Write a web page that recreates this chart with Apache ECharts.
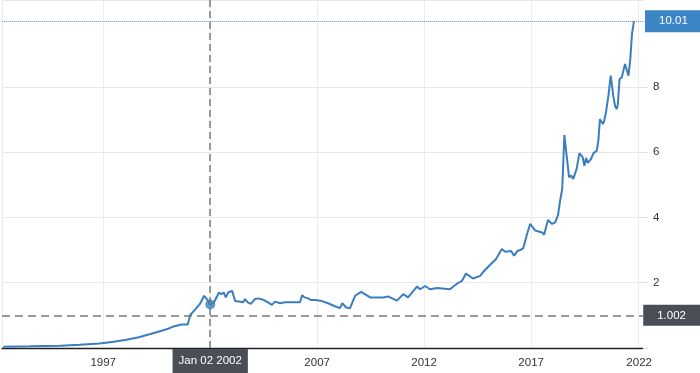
<!DOCTYPE html>
<html>
<head>
<meta charset="utf-8">
<script src="https://cdn.jsdelivr.net/npm/echarts@6/dist/echarts.min.js"></script>
<style>
html,body{margin:0;padding:0;background:#fff;}
#c{width:700px;height:373px;}
</style>
</head>
<body>
<div id="c"></div>
<script>
const dates = [
 '1992-05-01','1993-08-01','1995-01-01','1995-12-01','1996-11-01','1997-07-01','1998-02-01','1998-09-01','1999-03-01','1999-08-01',
 '2000-01-01','2000-04-01','2000-09-01','2000-12-15','2001-01-25','2001-04-15','2001-07-10','2001-09-20','2001-11-25','2002-01-02',
 '2002-03-01','2002-06-01','2002-07-10','2002-08-20','2002-09-25','2002-11-05','2002-12-05','2003-01-10','2003-03-05','2003-04-10',
 '2003-07-20','2003-08-20','2003-10-05','2003-11-25','2004-02-05','2004-04-01','2004-07-05','2004-09-15','2004-11-20','2005-01-15',
 '2005-04-10','2005-07-01','2005-10-01','2006-03-15','2006-04-20','2006-06-01','2006-07-30','2006-09-20','2006-12-01','2007-03-01',
 '2007-07-05','2007-11-01','2008-01-25','2008-03-05','2008-05-10','2008-07-15','2008-10-10','2009-01-20','2009-06-25','2010-02-01','2010-04-25',
 '2010-09-25','2011-01-10','2011-04-01','2011-09-01','2011-10-25','2012-01-20','2012-04-10','2012-08-10','2013-03-15','2013-07-15',
 '2013-10-10','2013-12-15','2014-04-15','2014-08-15','2014-10-05','2015-02-01','2015-05-10','2015-08-20','2015-10-15','2016-01-25',
 '2016-03-15','2016-05-10','2016-06-28','2016-08-20','2016-10-25','2016-12-15','2017-03-10','2017-07-05','2017-08-10','2017-10-15',
 '2017-12-25','2018-02-15','2018-04-05','2018-05-10','2018-06-15','2018-07-22','2018-10-10','2018-11-15','2018-12-20','2019-02-15',
 '2019-04-05','2019-06-01','2019-06-28','2019-07-28','2019-08-25','2019-10-20','2019-12-01','2020-01-25','2020-02-22','2020-03-20',
 '2020-05-08','2020-06-01','2020-07-01','2020-08-12','2020-09-20','2020-11-02','2020-12-05','2021-01-01','2021-01-20','2021-02-18',
 '2021-03-28','2021-05-22','2021-07-20','2021-08-20','2021-09-18','2021-10-22'
];
const values = [
 0.04,0.05,0.07,0.10,0.14,0.19,0.25,0.33,0.42,0.50,
 0.58,0.65,0.72,0.72,1.01,1.17,1.35,1.60,1.45,1.33,
 1.38,1.70,1.65,1.70,1.55,1.70,1.65,1.75,1.43,1.43,
 1.40,1.50,1.40,1.35,1.50,1.52,1.47,1.40,1.32,1.42,
 1.37,1.40,1.40,1.40,1.62,1.55,1.52,1.47,1.47,1.45,
 1.37,1.28,1.22,1.37,1.24,1.22,1.60,1.72,1.55,1.55,1.58,
 1.45,1.65,1.55,1.88,1.80,1.90,1.80,1.84,1.80,1.97,
 2.06,2.28,2.13,2.21,2.33,2.55,2.72,3.03,2.95,2.97,
 2.83,2.97,3.00,3.06,3.50,3.80,3.60,3.54,3.47,3.92,
 3.80,3.85,4.08,4.51,4.87,6.52,5.23,5.28,5.18,5.48,
 5.97,5.84,5.58,5.82,5.67,5.79,5.97,6.04,6.35,7.01,
 6.86,6.96,7.22,7.73,8.34,7.73,7.40,7.32,7.47,8.24,
 8.29,8.70,8.34,8.85,9.62,10.01
];
const xTickLabels = ['1997','2002','2007','2012','2017','2022'];
const yTickLabels = [2,4,6,8];
const crossDate = '2002-01-02';
const crossValue = 1.002;
const markerDate = '2002-01-02';
const markerValue = 1.33;
const lastValue = 10.01;
const xMin = '1992-04-10';
const xMax = '2022-03-25';
const yMax = 10.66;

const MONTHS = ['Jan','Feb','Mar','Apr','May','Jun','Jul','Aug','Sep','Oct','Nov','Dec'];
function ts(s){ const p = s.split('-').map(Number); return Date.UTC(p[0], p[1]-1, p[2]); }
const yearTs = xTickLabels.map(y => ts(y + '-01-01'));
const lastYearTs = yearTs[yearTs.length - 1];
const FONT = 'Liberation Sans, Arial, sans-serif';

const chart = echarts.init(document.getElementById('c'), null, {renderer:'canvas'});
chart.setOption({
  animation: false,
  backgroundColor: '#fff',
  grid: {left: 2, right: 57, top: 0, bottom: 25, containLabel: false},
  xAxis: {
    type: 'value',
    min: ts(xMin), max: ts(xMax),
    axisLine: {show: true, onZero: false, lineStyle: {color: '#222', width: 1.3}},
    axisTick: {show: false, customValues: [ts(xMin)].concat(yearTs)},
    axisLabel: {
      customValues: yearTs,
      color: '#333', fontSize: 11.5, fontFamily: FONT, margin: 9,
      formatter: v => (v === lastYearTs ? '{last|' : '{n|') + new Date(v).getUTCFullYear() + '}',
      rich: {
        n: {color: '#333', fontSize: 11.5, fontFamily: FONT},
        last: {color: '#333', fontSize: 11.5, fontFamily: FONT, padding: [0, 0, 0, 2]}
      }
    },
    splitLine: {show: true, lineStyle: {color: '#ececec', width: 1}},
    axisPointer: {
      show: true, status: 'show', value: ts(crossDate), snap: false, triggerTooltip: false,
      lineStyle: {color: '#7a7a7a', width: 1.5, type: [7, 4]},
      label: {
        show: true, backgroundColor: '#4a4f57', color: '#fff', fontSize: 11.5, fontFamily: FONT,
        padding: [6, 6, 6, 6], margin: 1, borderRadius: 0,
        formatter: p => { const d = new Date(p.value); return MONTHS[d.getUTCMonth()] + ' ' + String(d.getUTCDate()).padStart(2,'0') + ' ' + d.getUTCFullYear(); }
      }
    }
  },
  yAxis: {
    type: 'value', position: 'right',
    min: 0, max: yMax, interval: 2,
    axisLine: {show: false},
    axisTick: {show: true, length: 5, lineStyle: {color: '#e0e0e0'}},
    axisLabel: {
      color: '#333', fontSize: 11.5, fontFamily: FONT, margin: 10, showMaxLabel: false,
      formatter: v => yTickLabels.indexOf(v) >= 0 ? String(v) : ''
    },
    splitLine: {show: true, lineStyle: {color: '#e8e8e8', width: 1}},
    axisPointer: {
      show: true, status: 'show', value: crossValue, snap: false, triggerTooltip: false,
      lineStyle: {color: '#7a7a7a', width: 1.5, type: [8, 5]},
      label: {
        show: true, backgroundColor: '#4a4f57', color: '#fff', fontSize: 11.5, fontFamily: FONT,
        padding: [5, 14, 4, 14], margin: 2, borderRadius: 0,
        formatter: p => Number(p.value).toFixed(3)
      }
    }
  },
  series: [
    {
      type: 'line',
      data: dates.map((d, i) => [ts(d), values[i]]),
      showSymbol: false,
      symbol: 'none',
      lineStyle: {color: '#3a7ebf', width: 2},
      itemStyle: {color: '#3a7ebf'},
      z: 3,
      markLine: {
        silent: true,
        symbol: ['none', 'none'],
        lineStyle: {color: '#6fa3d6', type: 'dotted', width: 1},
        label: {
          show: true, position: 'end', distance: 2,
          backgroundColor: '#3d86c6', color: '#fff', fontSize: 11.5, fontFamily: FONT,
          padding: [5, 14, 5, 14], formatter: () => lastValue.toFixed(2)
        },
        data: [{yAxis: lastValue}]
      }
    },
    {
      type: 'scatter',
      data: [[ts(markerDate), markerValue]],
      symbol: 'circle', symbolSize: 10,
      itemStyle: {color: '#3a7ebf'},
      z: 4
    }
  ]
});
</script>
</body>
</html>
